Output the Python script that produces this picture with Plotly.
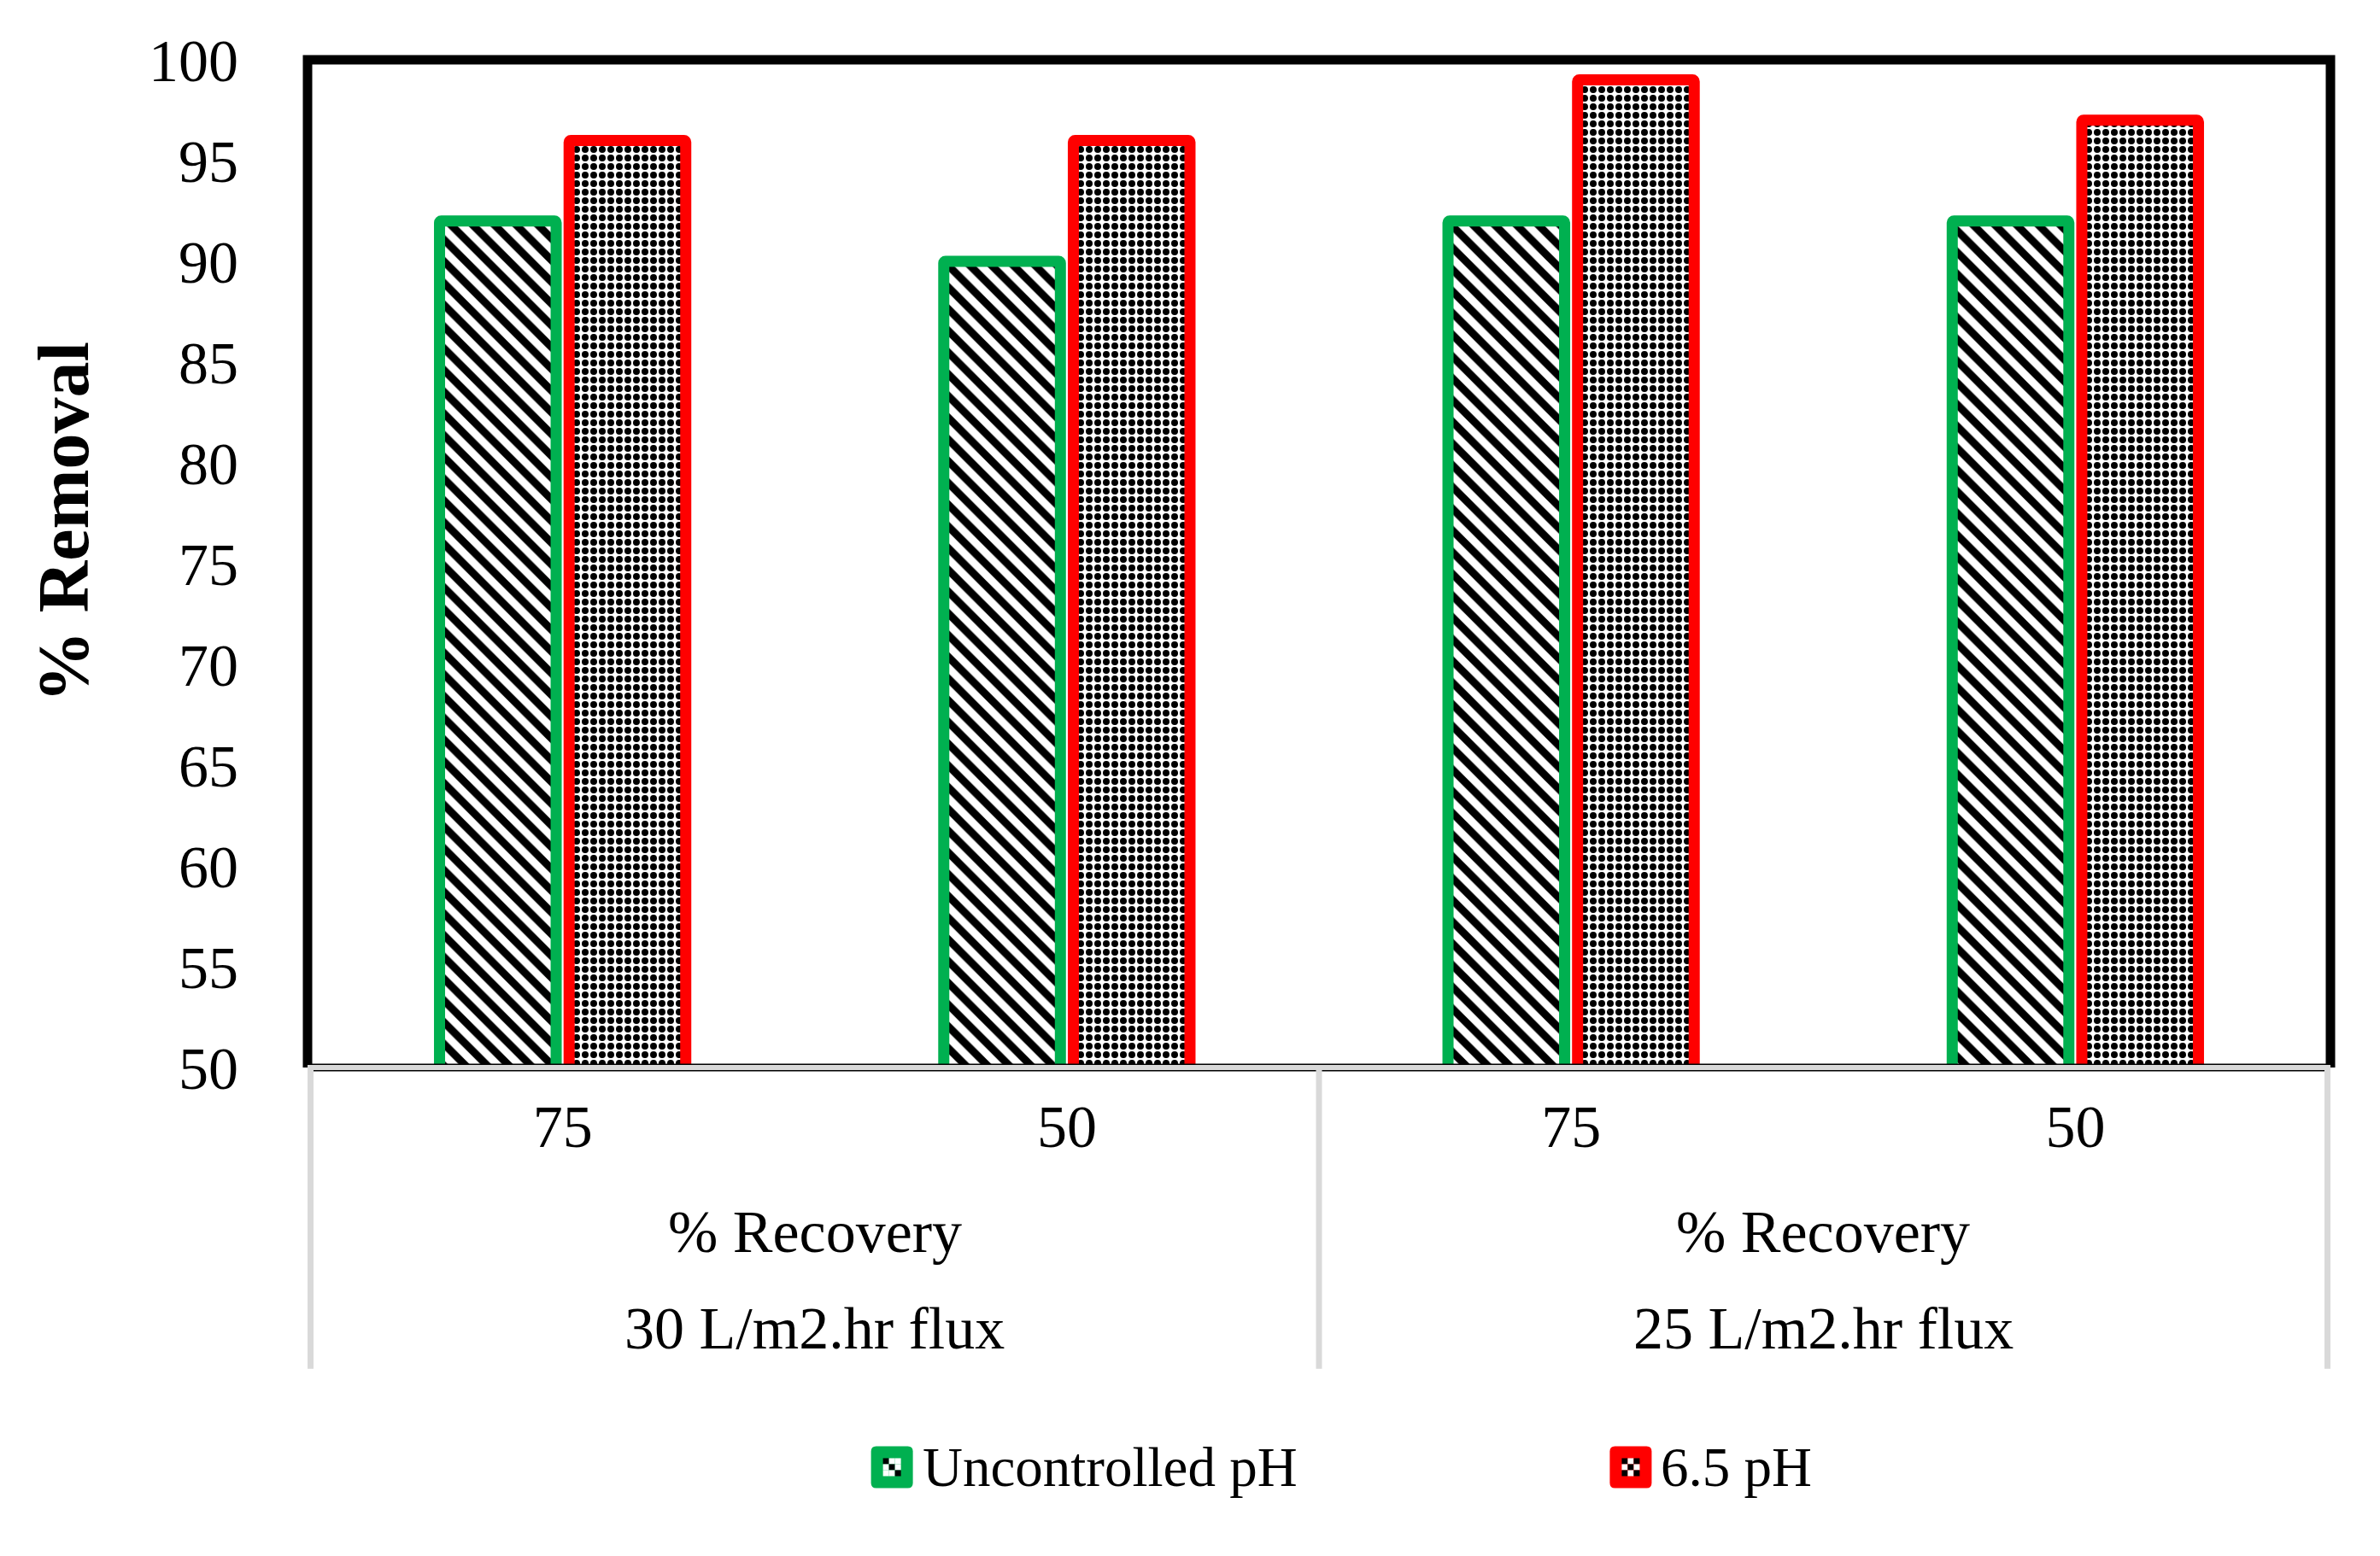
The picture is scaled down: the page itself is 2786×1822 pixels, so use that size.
import plotly.graph_objects as go

# ---------------- data ----------------
flux_groups = ["30 L/m2.hr flux", "30 L/m2.hr flux", "25 L/m2.hr flux", "25 L/m2.hr flux"]
recovery_labels = ["75", "50", "75", "50"]
group_title = "% Recovery"
uncontrolled_ph = [92, 90, 92, 92]
ph_6_5 = [96, 96, 99, 97]
series_names = ["Uncontrolled pH", "6.5 pH"]
y_ticks = list(range(50, 101, 5))

# ---------------- style ----------------
FONT = "Palatino Linotype, Book Antiqua, Liberation Serif, serif"
GREEN = "#00B050"
RED = "#FF0000"
GRAY = "#D9D9D9"
W, H = 2786, 1822
ML, MR, MT, MB = 360, 58, 70, 572

cat_ids = [f"{g}|{r}" for g, r in zip(flux_groups, recovery_labels)]

fig = go.Figure()
fig.add_trace(go.Bar(
    x=cat_ids, y=uncontrolled_ph, name=series_names[0], showlegend=False,
    marker=dict(color="white", cornerradius=2,
                line=dict(color=GREEN, width=13),
                pattern=dict(shape="\\", size=18, solidity=0.5, fillmode="replace",
                             fgcolor="#000000", fgopacity=1, bgcolor="#FFFFFF")),
))
fig.add_trace(go.Bar(
    x=cat_ids, y=ph_6_5, name=series_names[1], showlegend=False,
    marker=dict(color="white", cornerradius=2,
                line=dict(color=RED, width=13),
                pattern=dict(shape=".", size=10, solidity=0.5, fillmode="replace",
                             fgcolor="#000000", fgopacity=1, bgcolor="#FFFFFF")),
))

shapes = []
# plot frame (top, left, right)
shapes.append(dict(type="path", xref="paper", yref="paper",
                   path="M0,0 L0,1 L1,1 L1,0", line=dict(color="black", width=11)))
# bottom axis line: black edge with gray core
shapes.append(dict(type="line", xref="paper", yref="paper", x0=0, x1=1, y0=0, y1=0,
                   line=dict(color="black", width=9)))
shapes.append(dict(type="line", xref="paper", yref="paper", x0=0, x1=1, y0=0, y1=0,
                   line=dict(color=GRAY, width=6)))

# group dividers & group labels
groups = []
for i, g in enumerate(flux_groups):
    if not groups or groups[-1][0] != g:
        groups.append([g, i, i])
    else:
        groups[-1][2] = i
div_pos = sorted(set([grp[1] - 0.5 for grp in groups] + [grp[2] + 0.5 for grp in groups]))
for xp in div_pos:
    shapes.append(dict(type="line", xref="x", yref="paper", x0=xp, x1=xp, y0=0, y1=-0.299,
                       line=dict(color=GRAY, width=7)))

annotations = []
for g, i0, i1 in groups:
    xc = (i0 + i1) / 2
    annotations.append(dict(text=group_title, xref="x", yref="paper", x=xc, y=-0.163,
                            showarrow=False, xanchor="center", yanchor="middle",
                            font=dict(family=FONT, size=70, color="black")))
    annotations.append(dict(text=g, xref="x", yref="paper", x=xc, y=-0.259,
                            showarrow=False, xanchor="center", yanchor="middle",
                            font=dict(family=FONT, size=70, color="black")))

# y-axis title
annotations.append(dict(text="<b>% Removal</b>", xref="paper", yref="paper",
                        x=-0.1204, y=0.541, textangle=-90, showarrow=False,
                        xanchor="center", yanchor="middle",
                        font=dict(family=FONT, size=84, color="black")))

# custom legend
legend_items = [
    (series_names[0], GREEN, 0.2889, 0.3032, "stripe"),
    (series_names[1], RED, 0.6541, 0.6681, "checker"),
]
ly = -0.3966
for name, col, bx, tx, kind in legend_items:
    r = 6
    h = 24.5
    p = (f"M{-h + r},{-h} L{h - r},{-h} Q{h},{-h} {h},{-h + r} L{h},{h - r} Q{h},{h} {h - r},{h} "
         f"L{-h + r},{h} Q{-h},{h} {-h},{h - r} L{-h},{-h + r} Q{-h},{-h} {-h + r},{-h} Z")
    shapes.append(dict(type="path", xref="paper", yref="paper", xsizemode="pixel",
                       ysizemode="pixel", xanchor=bx, yanchor=ly, path=p,
                       fillcolor=col, line=dict(width=0)))
    c = 7
    for row in range(3):
        for colm in range(3):
            if kind == "checker":
                black = (row + colm) % 2 == 0
            else:
                black = (colm - row) % 3 == 0
            x0 = -10.5 + colm * c
            y0 = 10.5 - (row + 1) * c
            shapes.append(dict(type="rect", xref="paper", yref="paper", xsizemode="pixel",
                               ysizemode="pixel", xanchor=bx, yanchor=ly,
                               x0=x0, x1=x0 + c, y0=y0, y1=y0 + c,
                               fillcolor="black" if black else "white", line=dict(width=0)))
    annotations.append(dict(text=name, xref="paper", yref="paper", x=tx, y=ly,
                            showarrow=False, xanchor="left", yanchor="middle",
                            font=dict(family=FONT, size=65, color="black")))

fig.update_layout(
    width=W, height=H,
    margin=dict(l=ML, r=MR, t=MT, b=MB),
    paper_bgcolor="white", plot_bgcolor="white",
    barmode="group", bargap=0.486, bargroupgap=0.1,
    showlegend=False,
    font=dict(family=FONT, color="black"),
    shapes=shapes, annotations=annotations,
    xaxis=dict(type="category", tickvals=cat_ids, ticktext=recovery_labels,
               tickfont=dict(family=FONT, size=70, color="black"),
               showgrid=False, zeroline=False, showline=False, ticks="",
               ticklabelstandoff=22),
    yaxis=dict(range=[50, 100], tickvals=y_ticks, showgrid=False, zeroline=False,
               showline=False, ticks="", ticklabelstandoff=80,
               tickfont=dict(family=FONT, size=70, color="black")),
)

fig.write_html("out.html", config={"displayModeBar": False},
               post_script="document.body.style.margin='0';document.body.style.overflow='hidden';")
